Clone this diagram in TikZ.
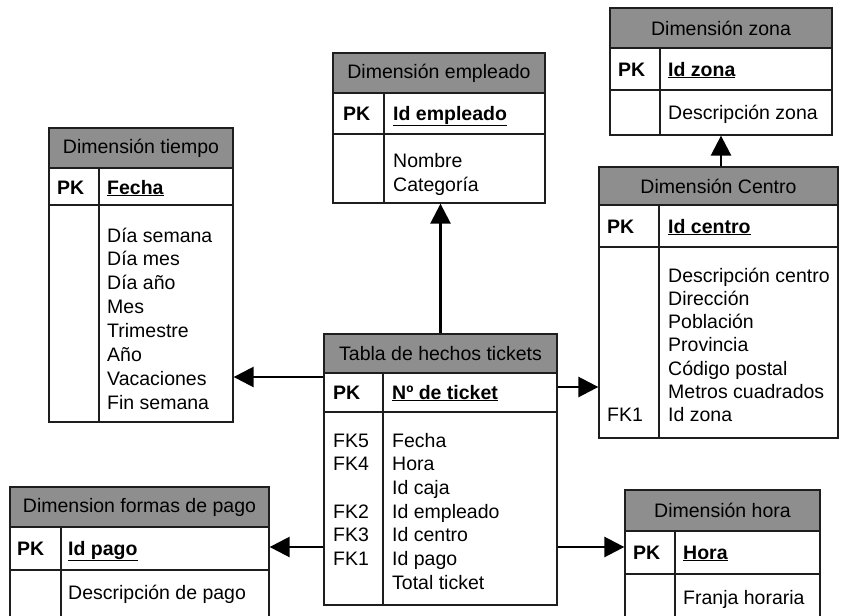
\documentclass[tikz,border=0pt]{standalone}
\usepackage{fontspec}
\setmainfont{Liberation Sans}
\usetikzlibrary{arrows.meta,fit}
\definecolor{hdrgray}{RGB}{142,142,142}
\definecolor{ln}{RGB}{30,30,30}
\tikzset{
  cell/.style={draw=ln, line width=1.3pt, inner sep=0pt},
  hdr/.style={cell, fill=hdrgray},
  ttl/.style={inner sep=0pt, font=\fontsize{19.5}{24}\selectfont},
  txt/.style={anchor=base west, inner sep=0pt, font=\fontsize{19.5}{24}\selectfont},
  pk/.style={txt, font=\fontsize{19.5}{24}\selectfont\bfseries},
  divline/.style={draw=ln, line width=1.3pt},
  link/.style={line width=2.6pt, draw=black, -{Triangle[length=20pt,width=20pt]}},
}
% name, x1, y1, x2, yheader, ypk, ybottom, xdivider, title
\newcommand{\ertable}[9]{%
  \node[hdr, fit={(#2,#3) (#4,#5)}] (#1-h) {};
  \node[ttl] (#1-t) at (#1-h.center) {#9};
  \node[cell, fit={(#2,#5) (#4,#6)}] (#1-k) {};
  \node[cell, fit={(#2,#6) (#4,#7)}] (#1-b) {};
  \draw[divline] (#8,#5) -- (#8,#7);
}
\begin{document}
\begin{tikzpicture}[x=1pt,y=-1pt]
\clip (0,0) rectangle (841,616);
\fill[white] (0,0) rectangle (841,616);

% Dimension tiempo
\ertable{tiempo}{49}{128}{233}{168}{205}{422}{99}{Dimensión tiempo}
\node[pk] (tiempo-pk) at (57,194) {PK};
\node[pk] (tiempo-key) at (107,194) {\underline{Fecha}};
\foreach \s [count=\i] in {Día semana,Día mes,Día año,Mes,Trimestre,Año,Vacaciones,Fin semana}
  \node[txt] (tiempo-a\i) at (107,{242+23.9*(\i-1)}) {\s};

% Dimension empleado
\ertable{emp}{333}{53}{545}{93}{134}{203}{384}{Dimensión empleado}
\node[pk] (emp-pk) at (343,120) {PK};
\node[pk] (emp-key) at (393,120) {\underline{Id empleado}};
\node[txt] (emp-a1) at (393,167) {Nombre};
\node[txt] (emp-a2) at (393,191) {Categoría};

% Dimension zona
\ertable{zona}{610}{8}{832}{48}{90}{135}{660}{Dimensión zona}
\node[pk] (zona-pk) at (618,76) {PK};
\node[pk] (zona-key) at (668,76) {\underline{Id zona}};
\node[txt] (zona-a1) at (668,119) {Descripción zona};

% Dimension Centro
\ertable{centro}{599}{167}{838}{205}{247}{438}{659}{Dimensión Centro}
\node[pk] (centro-pk) at (607,233) {PK};
\node[pk] (centro-key) at (668,233) {\underline{Id centro}};
\foreach \s [count=\i] in {Descripción centro,Dirección,Población,Provincia,Código postal,Metros cuadrados,Id zona}
  \node[txt] (centro-a\i) at (668,{282+23.3*(\i-1)}) {\s};
\node[txt] (centro-fk1) at (607,{282+23.3*6}) {FK1};

% Tabla de hechos
\ertable{fact}{324}{334}{557}{373}{412}{605}{383}{Tabla de hechos tickets}
\node[pk] (fact-pk) at (333,399) {PK};
\node[pk] (fact-key) at (392,399) {\underline{Nº de ticket}};
\foreach \s [count=\i] in {Fecha,Hora,Id caja,Id empleado,Id centro,Id pago,Total ticket}
  \node[txt] (fact-a\i) at (392,{447+23.7*(\i-1)}) {\s};
\foreach \s/\i in {FK5/1,FK4/2,FK2/4,FK3/5,FK1/6}
  \node[txt] (fact-fk\i) at (333,{447+23.7*(\i-1)}) {\s};

% Dimension formas de pago
\ertable{pago}{10}{487}{269}{527}{570}{640}{61}{Dimension formas de pago}
\node[pk] (pago-pk) at (17,555) {PK};
\node[pk] (pago-key) at (68,555) {\underline{Id pago}};
\node[txt] (pago-a1) at (68,599) {Descripción de pago};

% Dimension hora
\ertable{hora}{625}{490}{820}{531}{574}{650}{675}{Dimensión hora}
\node[pk] (hora-pk) at (633,559) {PK};
\node[pk] (hora-key) at (683,559) {\underline{Hora}};
\node[txt] (hora-a1) at (683,604) {Franja horaria};

% connectors
\coordinate (yT) at (0,377);
\coordinate (yC) at (0,387);
\coordinate (yP) at (0,547);
\draw[link] (fact-k.west |- yT) -- (tiempo-b.east |- yT);
\draw[link] (fact-h.north) -- (fact-h.north |- emp-b.south);
\draw[link] (fact-k.east |- yC) -- (centro-b.west |- yC);
\draw[link] (centro-h.north -| zona-b.south) -- (zona-b.south);
\draw[link] (fact-b.west |- yP) -- (pago-k.east |- yP);
\draw[link] (fact-b.east |- yP) -- (hora-k.west |- yP);
\end{tikzpicture}
\end{document}
